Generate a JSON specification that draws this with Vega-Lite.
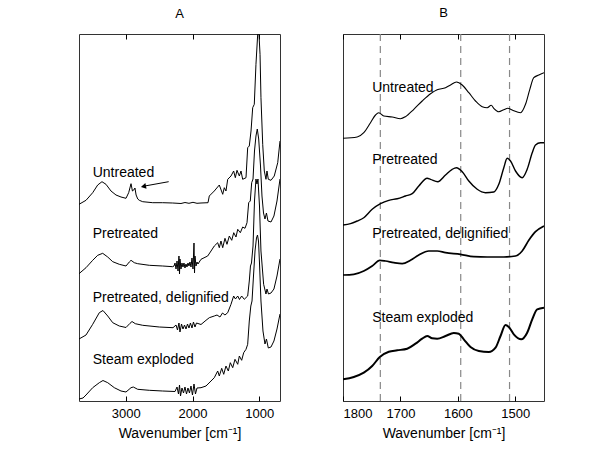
{
  "$schema": "https://vega.github.io/schema/vega-lite/v6.json",
  "padding": {"left": 78, "top": 6, "right": 10, "bottom": 5},
  "config": {
    "font": "Liberation Sans",
    "view": {"stroke": "#333", "strokeWidth": 1},
    "axis": {"domain": false, "grid": false, "ticks": true, "tickSize": -5, "tickColor": "#000", "labelColor": "#000", "labelFontSize": 13, "labelPadding": 11, "titleFontSize": 14, "titleFontWeight": "normal", "titleColor": "#000", "titlePadding": 6, "format": "d"},
    "title": {"fontSize": 13, "fontWeight": "normal", "color": "#000", "offset": 13},
    "text": {"font": "Liberation Sans"}
  },
  "datasets": {
    "specA": [
      {"s":"Untreated","x":3700,"y":196.7},{"s":"Untreated","x":3595,"y":200.7},{"s":"Untreated","x":3495,"y":208.3},{"s":"Untreated","x":3420,"y":216},{"s":"Untreated","x":3356,"y":219.3},{"s":"Untreated","x":3296,"y":216.7},{"s":"Untreated","x":3221,"y":210},{"s":"Untreated","x":3146,"y":206},{"s":"Untreated","x":3071,"y":204},{"s":"Untreated","x":2996,"y":202.7},{"s":"Untreated","x":2956,"y":208.3},{"s":"Untreated","x":2921,"y":217.3},{"s":"Untreated","x":2900,"y":210},{"s":"Untreated","x":2880,"y":211},{"s":"Untreated","x":2862,"y":213},{"s":"Untreated","x":2845,"y":206},{"s":"Untreated","x":2820,"y":202},{"s":"Untreated","x":2797,"y":200.7},{"s":"Untreated","x":2746,"y":199.3},{"s":"Untreated","x":2596,"y":198.3},{"s":"Untreated","x":2447,"y":198.3},{"s":"Untreated","x":2297,"y":198},{"s":"Untreated","x":2173,"y":197.5},{"s":"Untreated","x":2113,"y":198.5},{"s":"Untreated","x":2053,"y":197.7},{"s":"Untreated","x":1993,"y":198.7},{"s":"Untreated","x":1933,"y":197.7},{"s":"Untreated","x":1873,"y":198},{"s":"Untreated","x":1768,"y":198.3},{"s":"Untreated","x":1749,"y":205},{"s":"Untreated","x":1674,"y":210},{"s":"Untreated","x":1599,"y":216},{"s":"Untreated","x":1548,"y":206.7},{"s":"Untreated","x":1524,"y":213.3},{"s":"Untreated","x":1499,"y":210},{"s":"Untreated","x":1473,"y":221.7},{"s":"Untreated","x":1424,"y":225},{"s":"Untreated","x":1384,"y":230},{"s":"Untreated","x":1359,"y":223.3},{"s":"Untreated","x":1334,"y":230.7},{"s":"Untreated","x":1299,"y":225},{"s":"Untreated","x":1274,"y":230},{"s":"Untreated","x":1249,"y":221.7},{"s":"Untreated","x":1199,"y":223.3},{"s":"Untreated","x":1174,"y":253.3},{"s":"Untreated","x":1150,"y":255},{"s":"Untreated","x":1124,"y":270},{"s":"Untreated","x":1099,"y":293.3},{"s":"Untreated","x":1075,"y":296.7},{"s":"Untreated","x":1050,"y":336.7},{"s":"Untreated","x":1024,"y":366.7},{"s":"Untreated","x":1009,"y":372},{"s":"Untreated","x":989,"y":346.7},{"s":"Untreated","x":975,"y":303.3},{"s":"Untreated","x":949,"y":256.7},{"s":"Untreated","x":925,"y":230},{"s":"Untreated","x":900,"y":221.7},{"s":"Untreated","x":885,"y":230},{"s":"Untreated","x":865,"y":221.7},{"s":"Untreated","x":825,"y":220.7},{"s":"Untreated","x":776,"y":225},{"s":"Untreated","x":724,"y":238.3},{"s":"Untreated","x":690,"y":260},
      {"s":"Pretreated","x":3700,"y":127.3},{"s":"Pretreated","x":3595,"y":133.3},{"s":"Pretreated","x":3495,"y":140.7},{"s":"Pretreated","x":3420,"y":145.7},{"s":"Pretreated","x":3345,"y":147.7},{"s":"Pretreated","x":3270,"y":144},{"s":"Pretreated","x":3195,"y":139.3},{"s":"Pretreated","x":3097,"y":136.7},{"s":"Pretreated","x":2996,"y":135},{"s":"Pretreated","x":2947,"y":139},{"s":"Pretreated","x":2921,"y":140.7},{"s":"Pretreated","x":2872,"y":138.3},{"s":"Pretreated","x":2821,"y":137.3},{"s":"Pretreated","x":2647,"y":135.7},{"s":"Pretreated","x":2447,"y":135},{"s":"Pretreated","x":2297,"y":134.3},{"s":"Pretreated","x":2277,"y":135},{"s":"Pretreated","x":2262,"y":138},{"s":"Pretreated","x":2247,"y":132},{"s":"Pretreated","x":2232,"y":140},{"s":"Pretreated","x":2217,"y":130},{"s":"Pretreated","x":2203,"y":145},{"s":"Pretreated","x":2195,"y":127},{"s":"Pretreated","x":2188,"y":142},{"s":"Pretreated","x":2173,"y":132},{"s":"Pretreated","x":2158,"y":138},{"s":"Pretreated","x":2143,"y":134},{"s":"Pretreated","x":2128,"y":138},{"s":"Pretreated","x":2113,"y":133},{"s":"Pretreated","x":2098,"y":137},{"s":"Pretreated","x":2083,"y":134},{"s":"Pretreated","x":2068,"y":138},{"s":"Pretreated","x":2053,"y":135},{"s":"Pretreated","x":2038,"y":139},{"s":"Pretreated","x":2023,"y":134},{"s":"Pretreated","x":2008,"y":143},{"s":"Pretreated","x":1993,"y":132},{"s":"Pretreated","x":1978,"y":158},{"s":"Pretreated","x":1970,"y":128},{"s":"Pretreated","x":1963,"y":145},{"s":"Pretreated","x":1948,"y":135},{"s":"Pretreated","x":1933,"y":139},{"s":"Pretreated","x":1918,"y":137},{"s":"Pretreated","x":1873,"y":141.7},{"s":"Pretreated","x":1773,"y":145},{"s":"Pretreated","x":1723,"y":150},{"s":"Pretreated","x":1674,"y":155},{"s":"Pretreated","x":1623,"y":158.3},{"s":"Pretreated","x":1599,"y":153.3},{"s":"Pretreated","x":1574,"y":160},{"s":"Pretreated","x":1548,"y":153.3},{"s":"Pretreated","x":1514,"y":162.7},{"s":"Pretreated","x":1484,"y":156.7},{"s":"Pretreated","x":1449,"y":165},{"s":"Pretreated","x":1413,"y":160.7},{"s":"Pretreated","x":1383,"y":168.3},{"s":"Pretreated","x":1349,"y":164},{"s":"Pretreated","x":1323,"y":171.7},{"s":"Pretreated","x":1284,"y":168.3},{"s":"Pretreated","x":1249,"y":174},{"s":"Pretreated","x":1214,"y":172.7},{"s":"Pretreated","x":1184,"y":178.3},{"s":"Pretreated","x":1159,"y":198.3},{"s":"Pretreated","x":1135,"y":200},{"s":"Pretreated","x":1114,"y":218.3},{"s":"Pretreated","x":1094,"y":222},{"s":"Pretreated","x":1072,"y":250},{"s":"Pretreated","x":1050,"y":265},{"s":"Pretreated","x":1030,"y":272},{"s":"Pretreated","x":1009,"y":262},{"s":"Pretreated","x":982,"y":235},{"s":"Pretreated","x":960,"y":205},{"s":"Pretreated","x":937,"y":188},{"s":"Pretreated","x":915,"y":182},{"s":"Pretreated","x":893,"y":188},{"s":"Pretreated","x":870,"y":180},{"s":"Pretreated","x":825,"y":179},{"s":"Pretreated","x":781,"y":185},{"s":"Pretreated","x":735,"y":200},{"s":"Pretreated","x":690,"y":222},
      {"s":"Delig","x":3700,"y":62},{"s":"Delig","x":3595,"y":66},{"s":"Delig","x":3495,"y":76.7},{"s":"Delig","x":3396,"y":88.3},{"s":"Delig","x":3341,"y":90.5},{"s":"Delig","x":3270,"y":85},{"s":"Delig","x":3195,"y":78.3},{"s":"Delig","x":3097,"y":75},{"s":"Delig","x":2996,"y":73.5},{"s":"Delig","x":2936,"y":77.7},{"s":"Delig","x":2906,"y":79.5},{"s":"Delig","x":2857,"y":77.3},{"s":"Delig","x":2746,"y":75.7},{"s":"Delig","x":2497,"y":74},{"s":"Delig","x":2292,"y":73.3},{"s":"Delig","x":2247,"y":76},{"s":"Delig","x":2225,"y":71},{"s":"Delig","x":2203,"y":78},{"s":"Delig","x":2188,"y":69},{"s":"Delig","x":2165,"y":77},{"s":"Delig","x":2143,"y":72},{"s":"Delig","x":2120,"y":76},{"s":"Delig","x":2098,"y":72},{"s":"Delig","x":2075,"y":77},{"s":"Delig","x":2053,"y":73},{"s":"Delig","x":2031,"y":78},{"s":"Delig","x":2008,"y":73},{"s":"Delig","x":1986,"y":79},{"s":"Delig","x":1963,"y":74},{"s":"Delig","x":1941,"y":78},{"s":"Delig","x":1873,"y":76.5},{"s":"Delig","x":1798,"y":80.7},{"s":"Delig","x":1749,"y":83.3},{"s":"Delig","x":1674,"y":85},{"s":"Delig","x":1633,"y":86},{"s":"Delig","x":1589,"y":84},{"s":"Delig","x":1551,"y":88},{"s":"Delig","x":1514,"y":86},{"s":"Delig","x":1473,"y":88.3},{"s":"Delig","x":1424,"y":96.7},{"s":"Delig","x":1384,"y":105},{"s":"Delig","x":1357,"y":102},{"s":"Delig","x":1323,"y":105},{"s":"Delig","x":1297,"y":101.5},{"s":"Delig","x":1264,"y":105},{"s":"Delig","x":1225,"y":101.7},{"s":"Delig","x":1174,"y":105},{"s":"Delig","x":1150,"y":120},{"s":"Delig","x":1132,"y":135},{"s":"Delig","x":1117,"y":138},{"s":"Delig","x":1094,"y":155},{"s":"Delig","x":1072,"y":200},{"s":"Delig","x":1050,"y":222},{"s":"Delig","x":1035,"y":217},{"s":"Delig","x":1020,"y":222},{"s":"Delig","x":997,"y":195},{"s":"Delig","x":975,"y":150},{"s":"Delig","x":935,"y":116.7},{"s":"Delig","x":900,"y":107},{"s":"Delig","x":885,"y":112},{"s":"Delig","x":862,"y":107},{"s":"Delig","x":825,"y":108},{"s":"Delig","x":781,"y":112},{"s":"Delig","x":735,"y":125},{"s":"Delig","x":690,"y":142},
      {"s":"Steam","x":3700,"y":2},{"s":"Steam","x":3640,"y":3},{"s":"Steam","x":3595,"y":6},{"s":"Steam","x":3495,"y":13.3},{"s":"Steam","x":3396,"y":18.3},{"s":"Steam","x":3341,"y":20.5},{"s":"Steam","x":3270,"y":18.3},{"s":"Steam","x":3171,"y":13.3},{"s":"Steam","x":3071,"y":10},{"s":"Steam","x":2996,"y":9},{"s":"Steam","x":2921,"y":13.3},{"s":"Steam","x":2887,"y":14},{"s":"Steam","x":2821,"y":11.7},{"s":"Steam","x":2647,"y":10.7},{"s":"Steam","x":2447,"y":10},{"s":"Steam","x":2262,"y":9.5},{"s":"Steam","x":2232,"y":14},{"s":"Steam","x":2210,"y":7},{"s":"Steam","x":2195,"y":16},{"s":"Steam","x":2180,"y":5},{"s":"Steam","x":2158,"y":13},{"s":"Steam","x":2135,"y":8},{"s":"Steam","x":2113,"y":14},{"s":"Steam","x":2090,"y":7},{"s":"Steam","x":2068,"y":13},{"s":"Steam","x":2046,"y":8},{"s":"Steam","x":2023,"y":15},{"s":"Steam","x":2001,"y":6},{"s":"Steam","x":1978,"y":17},{"s":"Steam","x":1956,"y":7},{"s":"Steam","x":1933,"y":13},{"s":"Steam","x":1873,"y":13.3},{"s":"Steam","x":1798,"y":15},{"s":"Steam","x":1723,"y":20},{"s":"Steam","x":1674,"y":23.3},{"s":"Steam","x":1623,"y":30},{"s":"Steam","x":1599,"y":25},{"s":"Steam","x":1563,"y":32.7},{"s":"Steam","x":1533,"y":26.7},{"s":"Steam","x":1499,"y":35},{"s":"Steam","x":1464,"y":30},{"s":"Steam","x":1434,"y":38.3},{"s":"Steam","x":1398,"y":33.3},{"s":"Steam","x":1364,"y":41.7},{"s":"Steam","x":1323,"y":36.7},{"s":"Steam","x":1299,"y":45},{"s":"Steam","x":1264,"y":40.7},{"s":"Steam","x":1234,"y":48.3},{"s":"Steam","x":1199,"y":51.7},{"s":"Steam","x":1174,"y":56.7},{"s":"Steam","x":1150,"y":80},{"s":"Steam","x":1127,"y":95},{"s":"Steam","x":1109,"y":100},{"s":"Steam","x":1087,"y":125},{"s":"Steam","x":1064,"y":150},{"s":"Steam","x":1042,"y":163},{"s":"Steam","x":1027,"y":166},{"s":"Steam","x":1012,"y":160},{"s":"Steam","x":997,"y":138},{"s":"Steam","x":975,"y":100},{"s":"Steam","x":945,"y":70},{"s":"Steam","x":915,"y":57},{"s":"Steam","x":893,"y":62},{"s":"Steam","x":865,"y":53},{"s":"Steam","x":825,"y":54},{"s":"Steam","x":781,"y":60},{"s":"Steam","x":735,"y":72},{"s":"Steam","x":690,"y":87}
    ],
    "specB": [
      {"s":"Untreated","x":1800,"y":262.7},{"s":"Untreated","x":1775.3,"y":264},{"s":"Untreated","x":1763.8,"y":268.3},{"s":"Untreated","x":1752.1,"y":278.3},{"s":"Untreated","x":1743.4,"y":286},{"s":"Untreated","x":1737.7,"y":288.3},{"s":"Untreated","x":1729,"y":285},{"s":"Untreated","x":1714.3,"y":284},{"s":"Untreated","x":1699.9,"y":282.3},{"s":"Untreated","x":1691.2,"y":284.3},{"s":"Untreated","x":1676.7,"y":291.7},{"s":"Untreated","x":1662.1,"y":300},{"s":"Untreated","x":1647.6,"y":307.3},{"s":"Untreated","x":1636,"y":311.3},{"s":"Untreated","x":1621.5,"y":313.3},{"s":"Untreated","x":1612.8,"y":316},{"s":"Untreated","x":1602.4,"y":319},{"s":"Untreated","x":1592.4,"y":316},{"s":"Untreated","x":1580.9,"y":308.3},{"s":"Untreated","x":1569.3,"y":300},{"s":"Untreated","x":1557.6,"y":294.3},{"s":"Untreated","x":1548.9,"y":293.3},{"s":"Untreated","x":1541.9,"y":295.7},{"s":"Untreated","x":1537.4,"y":292.7},{"s":"Untreated","x":1528.7,"y":289.3},{"s":"Untreated","x":1520,"y":291.3},{"s":"Untreated","x":1513,"y":292.7},{"s":"Untreated","x":1505.4,"y":291},{"s":"Untreated","x":1490.9,"y":288.3},{"s":"Untreated","x":1482.2,"y":296.7},{"s":"Untreated","x":1474.7,"y":311.7},{"s":"Untreated","x":1467.8,"y":323.3},{"s":"Untreated","x":1459,"y":326},{"s":"Untreated","x":1450,"y":328.3},
      {"s":"Pretreated","x":1800,"y":176},{"s":"Pretreated","x":1786.9,"y":177.3},{"s":"Pretreated","x":1775.3,"y":180},{"s":"Pretreated","x":1763.8,"y":183.3},{"s":"Pretreated","x":1749.2,"y":191.7},{"s":"Pretreated","x":1734.7,"y":197.3},{"s":"Pretreated","x":1720.2,"y":200.7},{"s":"Pretreated","x":1705.6,"y":202.3},{"s":"Pretreated","x":1691.2,"y":205},{"s":"Pretreated","x":1679.5,"y":207.3},{"s":"Pretreated","x":1668,"y":215},{"s":"Pretreated","x":1653.4,"y":222.7},{"s":"Pretreated","x":1647.6,"y":221.7},{"s":"Pretreated","x":1634.9,"y":219.3},{"s":"Pretreated","x":1621.5,"y":226},{"s":"Pretreated","x":1609.8,"y":231.7},{"s":"Pretreated","x":1602.4,"y":233.3},{"s":"Pretreated","x":1592.4,"y":229.3},{"s":"Pretreated","x":1580.9,"y":220},{"s":"Pretreated","x":1566.3,"y":211.7},{"s":"Pretreated","x":1551.9,"y":208.3},{"s":"Pretreated","x":1537.4,"y":209},{"s":"Pretreated","x":1528.7,"y":216.7},{"s":"Pretreated","x":1520,"y":233.3},{"s":"Pretreated","x":1514.1,"y":242.7},{"s":"Pretreated","x":1508.3,"y":240},{"s":"Pretreated","x":1499.6,"y":230},{"s":"Pretreated","x":1488,"y":223.3},{"s":"Pretreated","x":1479.3,"y":231.7},{"s":"Pretreated","x":1470.5,"y":248.3},{"s":"Pretreated","x":1464.8,"y":256},{"s":"Pretreated","x":1456.1,"y":258.3},{"s":"Pretreated","x":1450,"y":258.3},
      {"s":"Delig","x":1800,"y":126},{"s":"Delig","x":1781.2,"y":126.7},{"s":"Delig","x":1763.8,"y":130},{"s":"Delig","x":1749.2,"y":135},{"s":"Delig","x":1735.9,"y":140.7},{"s":"Delig","x":1726,"y":140},{"s":"Delig","x":1711.5,"y":138.3},{"s":"Delig","x":1696.9,"y":137.3},{"s":"Delig","x":1682.5,"y":140.7},{"s":"Delig","x":1668,"y":146},{"s":"Delig","x":1650.6,"y":150},{"s":"Delig","x":1636,"y":150},{"s":"Delig","x":1621.5,"y":148.3},{"s":"Delig","x":1595.4,"y":146.7},{"s":"Delig","x":1572.2,"y":144.3},{"s":"Delig","x":1548.9,"y":144},{"s":"Delig","x":1520,"y":144},{"s":"Delig","x":1499.6,"y":145},{"s":"Delig","x":1488,"y":150},{"s":"Delig","x":1476.5,"y":160.7},{"s":"Delig","x":1464.8,"y":169.3},{"s":"Delig","x":1450,"y":175},
      {"s":"Steam","x":1800,"y":21.7},{"s":"Steam","x":1781.2,"y":24},{"s":"Steam","x":1763.8,"y":28.3},{"s":"Steam","x":1749.2,"y":35},{"s":"Steam","x":1735.9,"y":44},{"s":"Steam","x":1720.2,"y":49.3},{"s":"Steam","x":1705.6,"y":50.7},{"s":"Steam","x":1688.2,"y":52.3},{"s":"Steam","x":1673.8,"y":57.3},{"s":"Steam","x":1662.1,"y":62.3},{"s":"Steam","x":1653.4,"y":65},{"s":"Steam","x":1644.7,"y":62.7},{"s":"Steam","x":1636,"y":62.3},{"s":"Steam","x":1621.5,"y":65},{"s":"Steam","x":1607.1,"y":68},{"s":"Steam","x":1598.4,"y":67.3},{"s":"Steam","x":1589.7,"y":61.7},{"s":"Steam","x":1578,"y":54},{"s":"Steam","x":1563.5,"y":50},{"s":"Steam","x":1546.1,"y":49},{"s":"Steam","x":1534.4,"y":53.3},{"s":"Steam","x":1525.7,"y":65},{"s":"Steam","x":1517,"y":76},{"s":"Steam","x":1511.3,"y":74},{"s":"Steam","x":1502.6,"y":66.7},{"s":"Steam","x":1489.7,"y":61.7},{"s":"Steam","x":1479.3,"y":68.3},{"s":"Steam","x":1470.5,"y":81.7},{"s":"Steam","x":1461.8,"y":91.7},{"s":"Steam","x":1450,"y":93.3}
    ],
    "labelsA": [
      {"t":"Untreated","x":3495,"y":228.3},
      {"t":"Pretreated","x":3495,"y":166.7},
      {"t":"Pretreated, delignified","x":3495,"y":103.3},
      {"t":"Steam exploded","x":3495,"y":40.7}
    ],
    "labelsB": [
      {"t":"Untreated","x":1749.2,"y":313.3},
      {"t":"Pretreated","x":1749.2,"y":241},
      {"t":"Pretreated, delignified","x":1749.2,"y":167},
      {"t":"Steam exploded","x":1749.2,"y":83}
    ],
    "arrow": [
      {"x":2357,"y":219.3},
      {"x":2757,"y":214.5}
    ],
    "arrowHead": [
      {"x":2735,"y":214.6}
    ],
    "bands": [
      {"x":1735},{"x":1595},{"x":1510}
    ]
  },
  "hconcat": [
    {
      "width": 201,
      "height": 367,
      "title": "A",
      "resolve": {"axis": {"x": "independent"}},
      "layer": [
        {
          "data": {"name": "specA"},
          "mark": {"type": "line", "color": "#000", "strokeWidth": 1, "clip": true},
          "encoding": {
            "x": {"field": "x", "type": "quantitative", "scale": {"domain": [3700, 690], "nice": false, "zero": false}, "axis": {"orient": "bottom", "values": [3000, 2000, 1000], "title": "Wavenumber [cm⁻¹]"}},
            "y": {"field": "y", "type": "quantitative", "scale": {"domain": [0, 367], "nice": false, "zero": false}, "axis": null},
            "detail": {"field": "s", "type": "nominal"}
          }
        },
        {
          "data": {"name": "labelsA"},
          "mark": {"type": "text", "align": "left", "baseline": "middle", "fontSize": 14, "color": "#000"},
          "encoding": {
            "x": {"field": "x", "type": "quantitative", "axis": {"orient": "top", "values": [3000, 2000, 1000], "labels": false, "title": null}},
            "y": {"field": "y", "type": "quantitative", "axis": null},
            "text": {"field": "t"}
          }
        },
        {
          "data": {"name": "arrow"},
          "mark": {"type": "line", "color": "#000", "strokeWidth": 1},
          "encoding": {
            "x": {"field": "x", "type": "quantitative", "axis": null},
            "y": {"field": "y", "type": "quantitative", "axis": null}
          }
        },
        {
          "data": {"name": "arrowHead"},
          "mark": {"type": "point", "shape": "triangle-left", "filled": true, "color": "#000", "size": 35, "angle": -11, "opacity": 1},
          "encoding": {
            "x": {"field": "x", "type": "quantitative", "axis": null},
            "y": {"field": "y", "type": "quantitative", "axis": null}
          }
        }
      ]
    },
    {
      "width": 201,
      "height": 367,
      "title": "B",
      "resolve": {"axis": {"x": "independent"}},
      "layer": [
        {
          "data": {"name": "bands"},
          "mark": {"type": "rule", "color": "#888", "strokeWidth": 1.2, "strokeDash": [7, 5]},
          "encoding": {
            "x": {"field": "x", "type": "quantitative", "scale": {"domain": [1800, 1450], "nice": false, "zero": false}, "axis": {"orient": "bottom", "values": [1800, 1700, 1600, 1500], "title": "Wavenumber [cm⁻¹]"}}
          }
        },
        {
          "data": {"name": "specB"},
          "mark": {"type": "line", "color": "#000", "clip": true, "interpolate": "monotone"},
          "encoding": {
            "x": {"field": "x", "type": "quantitative", "axis": {"orient": "top", "values": [1800, 1700, 1600, 1500], "labels": false, "title": null}},
            "y": {"field": "y", "type": "quantitative", "scale": {"domain": [0, 367], "nice": false, "zero": false}, "axis": null},
            "detail": {"field": "s", "type": "nominal"},
            "strokeWidth": {"field": "s", "type": "nominal", "scale": {"domain": ["Untreated", "Pretreated", "Delig", "Steam"], "range": [1.1, 2, 2, 2]}, "legend": null}
          }
        },
        {
          "data": {"name": "labelsB"},
          "mark": {"type": "text", "align": "left", "baseline": "middle", "fontSize": 14, "color": "#000"},
          "encoding": {
            "x": {"field": "x", "type": "quantitative", "axis": null},
            "y": {"field": "y", "type": "quantitative", "axis": null},
            "text": {"field": "t"}
          }
        }
      ]
    }
  ],
  "spacing": 63,
  "bounds": "flush",
  "resolve": {"scale": {"x": "independent", "y": "independent"}}
}
